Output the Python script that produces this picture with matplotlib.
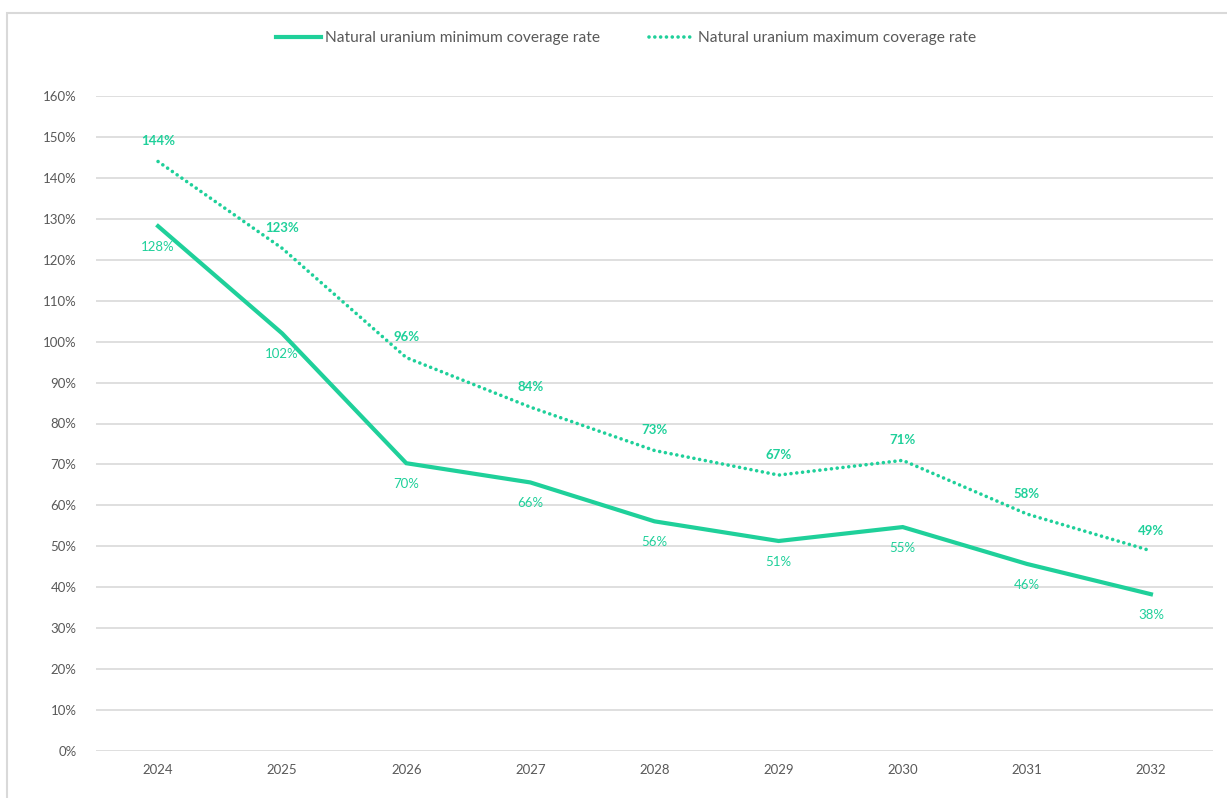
import matplotlib
matplotlib.use("Agg")
import matplotlib.pyplot as plt
from matplotlib.patches import Rectangle
from matplotlib.ticker import FuncFormatter, MultipleLocator

years = ["2024", "2025", "2026", "2027", "2028", "2029", "2030", "2031", "2032"]
min_rate = [128.2, 102.0, 70.3, 65.6, 56.1, 51.3, 54.7, 45.7, 38.3]
max_rate = [144.0, 122.8, 96.1, 84.0, 73.4, 67.4, 71.0, 57.9, 48.9]
min_label = "Natural uranium minimum coverage rate"
max_label = "Natural uranium maximum coverage rate"

color = "#1FD09A"
text_gray = "#595959"
plt.rcParams["font.family"] = ["Lato", "DejaVu Sans"]

W, H = 1227, 798
fig = plt.figure(figsize=(W / 100, H / 100), dpi=100)
ax = fig.add_axes([96 / W, 1 - 751 / H, (1213 - 96) / W, (751 - 96) / H])

# outer chart frame (partially visible)
fig.patches.append(Rectangle((7 / W, -0.05), 1.1, 1 - 13 / H + 0.05, transform=fig.transFigure,
                             fill=False, edgecolor="#D9D9D9", linewidth=1.5, zorder=0))

x = list(range(len(years)))
ax.plot(x, min_rate, color=color, lw=3.0, solid_joinstyle="miter", label=min_label, zorder=3)
ax.plot(x, max_rate, color=color, lw=2.6, linestyle=(0, (0.01, 1.6)), dash_capstyle="round",
        label=max_label, zorder=3)

for xi, v in zip(x, min_rate):
    ax.annotate(f"{round(v)}%", (xi, v), xytext=(0, -15), textcoords="offset points",
                ha="center", va="center", fontsize=9.5, color=color)
for xi, v in zip(x, max_rate):
    ax.annotate(f"{round(v)}%", (xi, v), xytext=(0, 14.5), textcoords="offset points",
                ha="center", va="center", fontsize=9.5, color=color, fontweight="bold")

ax.set_xlim(-0.5, len(years) - 0.5)
ax.set_ylim(0, 160)
ax.set_xticks(x)
ax.set_xticklabels(years)
ax.yaxis.set_major_locator(MultipleLocator(10))
ax.yaxis.set_major_formatter(FuncFormatter(lambda v, p: f"{int(round(v))}%"))
ax.tick_params(axis="both", length=0, labelsize=9.5, labelcolor=text_gray)
ax.tick_params(axis="y", pad=14)
ax.tick_params(axis="x", pad=9)
ax.grid(axis="y", color="#D9D9D9", lw=1.2)
ax.set_axisbelow(True)
for s in ax.spines.values():
    s.set_visible(False)

fig.legend(loc="center", bbox_to_anchor=(626 / W, 1 - 38 / H), ncol=2, frameon=False,
           fontsize=11.2, labelcolor=text_gray, handlelength=2.9, columnspacing=3.2,
           handletextpad=0.25)

fig.savefig("out.png", dpi=100)
